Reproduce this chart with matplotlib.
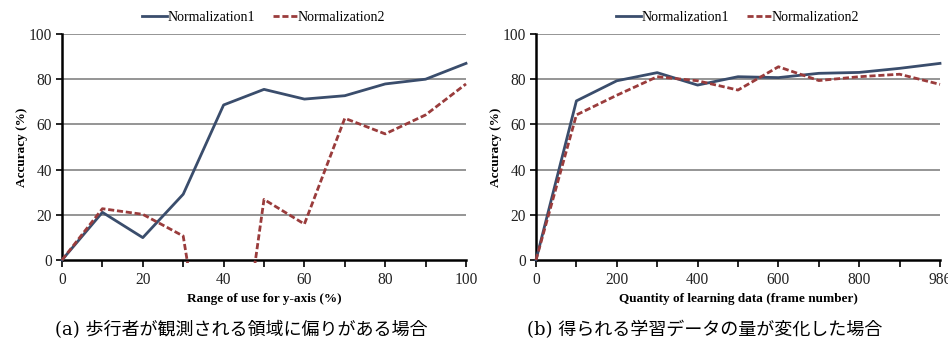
import matplotlib
matplotlib.use("Agg")
import matplotlib.pyplot as plt
from matplotlib.patches import Rectangle
from matplotlib.lines import Line2D

# ---- data ----
series_names = ["Normalization1", "Normalization2"]

range_x = [0, 10, 20, 30, 40, 50, 60, 70, 80, 90, 100]
range_norm1 = [0, 21.1, 9.9, 29.1, 68.6, 75.5, 71.2, 72.7, 77.9, 80.0, 87.0]
range_norm2 = [0, 22.7, 20.2, 10.6, -100, 26.8, 15.9, 62.7, 55.8, 64.2, 77.9]

qty_labels = ["0", "100", "200", "300", "400", "500", "600", "700", "800", "900", "986"]
qty_norm1 = [0, 70.4, 79.3, 82.9, 77.4, 81.1, 80.7, 82.6, 83.0, 84.8, 87.0]
qty_norm2 = [0, 64.2, 72.9, 81.1, 79.3, 75.2, 85.5, 79.4, 81.1, 82.2, 77.7]

y_ticks = [0, 20, 40, 60, 80, 100]

xlabel_a = "Range of use for y-axis (%)"
xlabel_b = "Quantity of learning data (frame number)"
ylabel = "Accuracy (%)"
caption_a = "(a) 歩行者が観測される領域に偏りがある場合"
caption_b = "(b) 得られる学習データの量が変化した場合"

# ---- style ----
C1 = "#3a4d6c"
C2 = "#9a3c3c"
SERIF = ["Liberation Serif", "DejaVu Serif"]
CAPF = ["DejaVu Serif", "Noto Sans CJK JP"]
TICKSIZE = 11.2

fig = plt.figure(figsize=(9.48, 3.45), dpi=100)
W, H = 948, 345


def make_axes(x0, x1, y_top, y_bot):
    return fig.add_axes([x0 / W, (H - y_bot) / H, (x1 - x0) / W, (y_bot - y_top) / H])


def style_axes(ax, xmin, xmax):
    ax.set_ylim(0, 100)
    ax.set_xlim(xmin, xmax)
    ax.set_yticks(y_ticks)
    ax.set_yticklabels([str(v) for v in y_ticks], fontfamily=SERIF, fontsize=TICKSIZE, color="#222222")
    for v in y_ticks[1:]:
        ax.axhline(v, color="#8c8c8c", lw=1.3, zorder=1)
    for s in ["top", "right"]:
        ax.spines[s].set_visible(False)
    ax.spines["left"].set_linewidth(1.8)
    ax.spines["bottom"].set_linewidth(1.8)
    ax.spines["left"].set_zorder(3)
    ax.spines["bottom"].set_zorder(3)
    ax.tick_params(axis="y", direction="out", length=4, width=1.2, pad=3)
    ax.tick_params(axis="x", direction="out", length=5, width=1.2, pad=4)
    ax.set_ylabel(ylabel, fontfamily=SERIF, fontweight="bold", fontsize=9.5, labelpad=1)


def plot_series(ax, x, y, color, ls, xmin, xmax):
    ln, = ax.plot(x, y, color=color, lw=2.0, ls=ls, zorder=4,
                  dashes=(2.2, 1.0) if ls == "--" else (None, None))
    clip = Rectangle((xmin - 2, -1.2), (xmax - xmin) + 4, 103, transform=ax.transData)
    ln.set_clip_path(clip)
    return ln


def legend(ax):
    handles = [Line2D([], [], color=C1, lw=2.0),
               Line2D([], [], color=C2, lw=2.0, ls="--", dashes=(2.2, 1.0))]
    ax.legend(handles, series_names, loc="lower center", bbox_to_anchor=(0.5, 1.0),
              ncol=2, frameon=False, handlelength=1.8, handletextpad=0.0, columnspacing=1.3,
              borderpad=0.2, prop={"family": SERIF, "size": 10})


# ---- (a) ----
axA = make_axes(62, 466, 34, 260)
style_axes(axA, 0, 100)
plot_series(axA, range_x, range_norm1, C1, "-", 0, 100)
plot_series(axA, range_x, range_norm2, C2, "--", 0, 100)
axA.set_xticks(range_x)
axA.set_xticklabels([str(v) if v % 20 == 0 else "" for v in range_x],
                    fontfamily=SERIF, fontsize=TICKSIZE, color="#222222")
axA.set_xlabel(xlabel_a, fontfamily=SERIF, fontweight="bold", fontsize=9.5, labelpad=3)
legend(axA)

# ---- (b) ----
axB = make_axes(536, 940, 34, 260)
style_axes(axB, 0, len(qty_labels) - 1)
idx = list(range(len(qty_labels)))
plot_series(axB, idx, qty_norm1, C1, "-", 0, len(qty_labels) - 1)
plot_series(axB, idx, qty_norm2, C2, "--", 0, len(qty_labels) - 1)
axB.set_xticks(idx)
axB.set_xticklabels([lab if i % 2 == 0 else "" for i, lab in enumerate(qty_labels)],
                    fontfamily=SERIF, fontsize=TICKSIZE, color="#222222")
axB.set_xlabel(xlabel_b, fontfamily=SERIF, fontweight="bold", fontsize=9.5, labelpad=3)
legend(axB)

# ---- captions ----
fig.text(241 / W, 1 - 330 / H, caption_a, ha="center", va="center",
         fontfamily=CAPF, fontsize=13)
fig.text(705 / W, 1 - 330 / H, caption_b, ha="center", va="center",
         fontfamily=CAPF, fontsize=13)

fig.savefig("out.png", dpi=100)
